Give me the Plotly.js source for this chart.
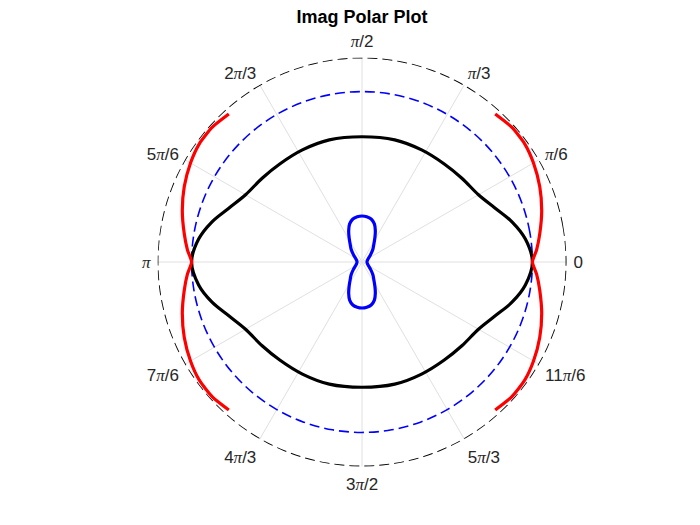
<!DOCTYPE html>
<html>
<head>
<meta charset="utf-8">
<script src="https://cdn.plot.ly/plotly-3.0.1.min.js"></script>
<style>
  html, body { margin: 0; padding: 0; background: white; }
  #chart { width: 700px; height: 525px; }
</style>
</head>
<body>
<div id="chart"></div>
<script>
// Imag polar plot: curves, one quadrant each (shapes are symmetric)

const PI = '<span style="font-family:\'Liberation Serif\', serif;font-style:italic">π</span>';

const TICK_DEG = [0, 30, 60, 90, 120, 150, 180, 210, 240, 270, 300, 330];
const TICK_TEXT = ["0", PI + "/6", PI + "/3", PI + "/2", "2" + PI + "/3", "5" + PI + "/6",
  PI, "7" + PI + "/6", "4" + PI + "/3", "3" + PI + "/2", "5" + PI + "/3", "11" + PI + "/6"];

// reference circles
const CIRCLE_THETA = [0, 10, 20, 30, 40, 50, 60, 70, 80, 90, 100, 110, 120, 130, 140, 150, 160, 170, 180,
  190, 200, 210, 220, 230, 240, 250, 260, 270, 280, 290, 300, 310, 320, 330, 340, 350, 360];
const OUTER_R = 1.2;
const UNIT_R = 1.0;

// black curve, first quadrant
const BLACK_THETA = [0, 8, 15, 22, 30, 40, 50, 62, 75, 90];
const BLACK_R = [1.0, 0.968, 0.911, 0.843, 0.789, 0.765, 0.751, 0.745, 0.742, 0.735];

// red arcs, upper half of the right arc
const RED_THETA = [0, 4, 9, 16, 23, 30, 36, 42, 48];
const RED_R = [1.0, 1.027, 1.056, 1.097, 1.133, 1.162, 1.18, 1.182, 1.168];

// blue figure-eight, first quadrant
const BLUE_THETA = [0, 20, 30, 40, 50, 57, 62, 67, 72, 78, 84, 90];
const BLUE_R = [0.029, 0.035, 0.044, 0.065, 0.1, 0.129, 0.161, 0.2, 0.235, 0.258, 0.267, 0.27];

// mirror a first-quadrant curve into a closed curve
function fullCurve(th, r) {
  const T = [], R = [];
  th.forEach((t, i) => { T.push(t); R.push(r[i]); });
  for (let i = th.length - 2; i >= 0; i--) { T.push(180 - th[i]); R.push(r[i]); }
  for (let i = 1; i < th.length; i++) { T.push(180 + th[i]); R.push(r[i]); }
  for (let i = th.length - 2; i >= 0; i--) { T.push(360 - th[i]); R.push(r[i]); }
  return { T, R };
}

// mirror half arc about the 0 (or 180) axis
function arc(th, r, base) {
  const T = [], R = [];
  for (let i = th.length - 1; i > 0; i--) { T.push(base - th[i]); R.push(r[i]); }
  th.forEach((t, i) => { T.push(base + t); R.push(r[i]); });
  return { T, R };
}

const black = fullCurve(BLACK_THETA, BLACK_R);
const blue = fullCurve(BLUE_THETA, BLUE_R);
const redR = arc(RED_THETA, RED_R, 0);
const redL = arc(RED_THETA, RED_R, 180);

const common = { type: "scatterpolar", mode: "lines", cliponaxis: false, hoverinfo: "skip", showlegend: false };

const data = [
  { ...common, theta: CIRCLE_THETA, r: CIRCLE_THETA.map(() => OUTER_R),
    line: { color: "black", width: 1.8, dash: "10px,5px", shape: "spline" } },
  { ...common, theta: CIRCLE_THETA, r: CIRCLE_THETA.map(() => UNIT_R),
    line: { color: "#0000ff", width: 1.6, dash: "10px,5px", shape: "spline" } },
  { ...common, theta: black.T, r: black.R,
    line: { color: "black", width: 3.2, shape: "spline" } },
  { ...common, theta: redR.T, r: redR.R,
    line: { color: "#ff0000", width: 3.2, shape: "spline", smoothing: 0.6 } },
  { ...common, theta: redL.T, r: redL.R,
    line: { color: "#ff0000", width: 3.2, shape: "spline", smoothing: 0.6 } },
  { ...common, theta: blue.T, r: blue.R,
    line: { color: "#0000ff", width: 3.2, shape: "spline", smoothing: 0.6 } },
];

const layout = {
  width: 700, height: 525,
  margin: { l: 0, r: 0, t: 0, b: 0 },
  paper_bgcolor: "white",
  font: { family: "Liberation Sans, Arial, sans-serif", color: "#262626", size: 17 },
  title: { text: "<b>Imag Polar Plot</b>", x: 0.517, xanchor: "center", y: 0.968, yanchor: "middle",
           font: { size: 18, color: "black" } },
  polar: {
    domain: { x: [0.225, 0.8093], y: [0.1114, 0.8905] },
    bgcolor: "white",
    radialaxis: { range: [0, 1.2], showgrid: false, showline: false, showticklabels: false, ticks: "" },
    angularaxis: {
      tickmode: "array", tickvals: TICK_DEG, ticktext: TICK_TEXT,
      showline: false, ticks: "outside", ticklen: 3, tickcolor: "rgba(0,0,0,0)",
      gridcolor: "#e0e0e0", gridwidth: 1,
      tickfont: { size: 17, color: "#262626" },
    },
  },
};

Plotly.newPlot("chart", data, layout, { displayModeBar: false, staticPlot: true });
</script>
</body>
</html>
